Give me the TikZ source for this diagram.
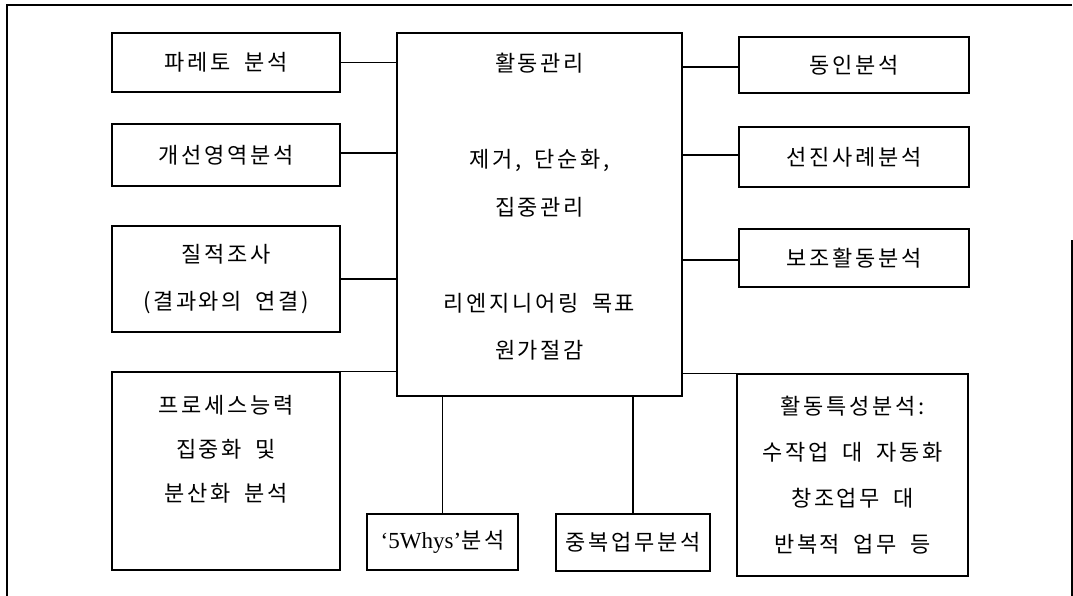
\documentclass[tikz,border=0pt]{standalone}
\usepackage{fontspec}
\newfontfamily\kr{Noto Sans CJK KR}[LetterSpace=12,WordSpace=1.8]
\newfontfamily\lat{Liberation Serif}
\begin{document}
\begin{tikzpicture}[x=1pt,y=-1pt,
  box/.style={draw=black,line width=1.2pt,inner sep=0pt,align=center,
    font=\kr\fontsize{22}{47}\selectfont},
  txt/.style={inner sep=0pt,align=center,font=\kr\fontsize{22}{47}\selectfont},
  conn/.style={draw=black,line width=1.2pt},
  frame/.style={draw=black,line width=1.3pt}]
\useasboundingbox (0,0) rectangle (1073,596);
% outer frame
\draw[frame] (7,596) -- (7,5) -- (1072,5);
\draw[frame] (1072,240) -- (1072,596);
% central box
\node[box,minimum width=285pt,minimum height=363pt] (center) at (539.5,214.5) {};
\node[txt] (t1) at (539.5,63) {활동관리};
\node[txt] (t2) at (539.5,160) {제거, 단순화,};
\node[txt] (t3) at (539.5,207) {집중관리};
\node[txt] (t4) at (539.5,303) {리엔지니어링 목표};
\node[txt] (t5) at (539.5,350) {원가절감};
% left boxes
\node[box,minimum width=228pt,minimum height=59pt] (pareto) at (226,62.5) {파레토 분석};
\node[box,minimum width=228pt,minimum height=62pt] (area) at (226,155) {개선영역분석};
\node[box,minimum width=228pt,minimum height=106pt] (qual) at (226,279) {질적조사\\(결과와의 연결)};
\node[box,minimum width=228pt,minimum height=198pt] (proc) at (226,471) {};
\node[txt,font=\kr\fontsize{22}{44}\selectfont] (proct) at (226,449) {프로세스능력\\집중화 및\\분산화 분석};
% right boxes
\node[box,minimum width=230pt,minimum height=56pt] (driver) at (854,65) {동인분석};
\node[box,minimum width=230pt,minimum height=60pt] (best) at (854,157) {선진사례분석};
\node[box,minimum width=230pt,minimum height=58pt] (support) at (854,258) {보조활동분석};
\node[box,minimum width=231pt,minimum height=202pt,font=\kr\fontsize{22}{46}\selectfont] (attr) at (852.5,475) {활동특성분석:\\수작업 대 자동화\\창조업무 대\\반복적 업무 등};
% bottom boxes
\node[box,minimum width=151pt,minimum height=56pt] (why) at (442.5,542) {{\lat\fontsize{23}{26}\selectfont ‘5Whys’}분석};
\node[box,minimum width=154pt,minimum height=57pt] (dup) at (633,542.5) {중복업무분석};
% connectors
\draw[conn] (pareto.east) -- (pareto.east -| center.west);
\draw[conn] ([yshift=2pt]area.east) -- ([yshift=2pt]area.east -| center.west);
\draw[conn] (qual.east) -- (qual.east -| center.west);
\draw[conn] (proc.north east) -- (proc.north east -| center.west);
\draw[conn] ([yshift=-2pt]driver.west) -- ([yshift=-2pt]driver.west -| center.east);
\draw[conn] ([yshift=2pt]best.west) -- ([yshift=2pt]best.west -| center.east);
\draw[conn] ([yshift=-2pt]support.west) -- ([yshift=-2pt]support.west -| center.east);
\draw[conn] (attr.north west) -- (attr.north west -| center.east);
\draw[conn] (why.north) -- (why.north |- center.south);
\draw[conn] (dup.north) -- (dup.north |- center.south);
\end{tikzpicture}
\end{document}
